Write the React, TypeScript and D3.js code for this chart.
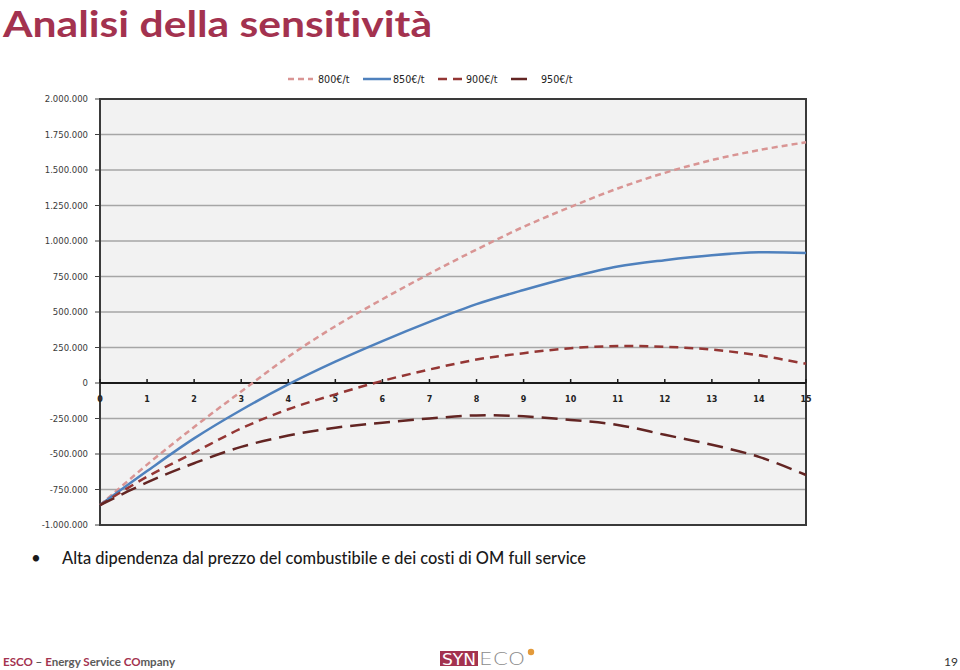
import React from "react";
import * as d3 from "d3";

const years = [0, 1, 2, 3, 4, 5, 6, 7, 8, 9, 10, 11, 12, 13, 14, 15];
const series800 = [-860, -575, -310, -60, 185, 400, 590, 770, 940, 1100, 1240, 1370, 1480, 1570, 1640, 1695];
const series850 = [-860, -620, -390, -190, -10, 150, 295, 430, 555, 655, 745, 820, 865, 900, 920, 915];
const series900 = [-860, -660, -490, -320, -185, -80, 15, 95, 165, 210, 245, 260, 255, 235, 195, 135];
const series950 = [-860, -700, -565, -450, -370, -315, -280, -250, -228, -235, -260, -295, -365, -435, -520, -648];
const seriesNames = ["800€/t", "850€/t", "900€/t", "950€/t"];
const yTicks = [2000000, 1750000, 1500000, 1250000, 1000000, 750000, 500000, 250000, 0, -250000, -500000, -750000, -1000000];

const CRIMSON = "#A3324F";

const seriesStyles = [
  { color: "#D99594", dash: "6,4" },
  { color: "#4F81BD", dash: "" },
  { color: "#943634", dash: "9,6" },
  { color: "#632523", dash: "16,8" },
];

const fmt = (v: number) => {
  if (v === 0) return "0";
  const s = Math.abs(v).toString().replace(/\B(?=(\d{3})+(?!\d))/g, ".");
  return (v < 0 ? "-" : "") + s;
};

const noLig = { fontVariantLigatures: "none" as const };

export default function App() {
  const left = 100, right = 806, top = 99, bottom = 525;
  const x = d3.scaleLinear().domain([0, 15]).range([left, right]);
  const y = d3.scaleLinear().domain([-1000000, 2000000]).range([bottom, top]);
  const all = [series800, series850, series900, series950];
  const line = d3
    .line<number>()
    .x((_, i) => x(years[i]))
    .y((d) => y(d * 1000))
    .curve(d3.curveCatmullRom.alpha(0.5));

  const legendItems = [
    { x1: 288, x2: 313, tx: 318 },
    { x1: 363, x2: 391, tx: 393 },
    { x1: 438, x2: 462, tx: 466 },
    { x1: 511, x2: 531, tx: 541 },
  ];

  return (
    <svg width={960} height={670} style={{ position: "absolute", left: 0, top: 0, background: "#fff" }}>
      {/* Title */}
      <text x={3} y={37} fontFamily="Lato" fontWeight={700} fontSize={36} fill={CRIMSON} textLength={429} lengthAdjust="spacingAndGlyphs" style={noLig}>
        Analisi della sensitività
      </text>

      {/* Legend */}
      {legendItems.map((it, i) => (
        <g key={i}>
          <line x1={it.x1} x2={it.x2} y1={79} y2={79} stroke={seriesStyles[i].color} strokeWidth={2.5} strokeDasharray={seriesStyles[i].dash || undefined} />
          <text x={it.tx} y={83} fontFamily="DejaVu Sans" fontSize={9.6} fill="#222">
            {seriesNames[i]}
          </text>
        </g>
      ))}

      {/* Plot area */}
      <rect x={left} y={top} width={right - left} height={bottom - top} fill="#F2F2F2" />
      {yTicks.map((t) => (
        <g key={t}>
          {t !== 0 && t !== 2000000 && t !== -1000000 && (
            <line x1={left} x2={right} y1={y(t)} y2={y(t)} stroke="#A6A6A6" strokeWidth={1.5} />
          )}
          <line x1={left - 5} x2={left} y1={y(t)} y2={y(t)} stroke="#404040" strokeWidth={1} />
          <text x={88} y={y(t) + 3} textAnchor="end" fontFamily="DejaVu Sans" fontSize={8.5} fill="#3a3a3a">
            {fmt(t)}
          </text>
        </g>
      ))}
      <rect x={left} y={top} width={right - left} height={bottom - top} fill="none" stroke="#3a3a3a" strokeWidth={2} />

      {/* Zero axis */}
      <line x1={left} x2={right} y1={y(0)} y2={y(0)} stroke="#1a1a1a" strokeWidth={2} />
      {years.map((yr) => (
        <g key={yr}>
          <line x1={x(yr)} x2={x(yr)} y1={y(0) - 4} y2={y(0)} stroke="#1a1a1a" strokeWidth={1.5} />
          <text x={x(yr)} y={y(0) + 19} textAnchor="middle" fontFamily="DejaVu Sans" fontWeight={700} fontSize={8} fill="#222">
            {yr}
          </text>
        </g>
      ))}

      {/* Series */}
      {all.map((s, i) => (
        <path key={i} d={line(s) || ""} fill="none" stroke={seriesStyles[i].color} strokeWidth={2.5} strokeDasharray={seriesStyles[i].dash || undefined} />
      ))}

      {/* Bullet */}
      <text x={31} y={564} fontFamily="Lato" fontSize={17} fill="#1a1a1a">•</text>
      <text x={62} y={564} fontFamily="Lato" fontWeight={500} fontSize={17} fill="#1a1a1a" textLength={524} lengthAdjust="spacingAndGlyphs" style={noLig}>
        Alta dipendenza dal prezzo del combustibile e dei costi di OM full service
      </text>

      {/* Footer */}
      <text x={3} y={666} fontFamily="Lato" fontWeight={700} fontSize={12} fill="#5a5a5a" textLength={172} lengthAdjust="spacingAndGlyphs" style={noLig}>
        <tspan fill={CRIMSON}>ESCO</tspan>
        <tspan> – </tspan>
        <tspan fill={CRIMSON}>E</tspan>
        <tspan>nergy </tspan>
        <tspan fill={CRIMSON}>S</tspan>
        <tspan>ervice </tspan>
        <tspan fill={CRIMSON}>CO</tspan>
        <tspan>mpany</tspan>
      </text>

      {/* Logo */}
      <rect x={440} y={651} width={38} height={15} fill={CRIMSON} />
      <text x={459} y={665} textAnchor="middle" fontFamily="DejaVu Sans" fontSize={15} fill="#fff" textLength={34} lengthAdjust="spacingAndGlyphs">
        SYN
      </text>
      <text x={479} y={665} fontFamily="DejaVu Sans" fontWeight={300} fontSize={17} fill="#8c8c8c" textLength={46} lengthAdjust="spacingAndGlyphs">
        ECO
      </text>
      <circle cx={531} cy={652} r={3.2} fill="#E39A3A" />

      {/* Page number */}
      <text x={958} y={666} textAnchor="end" fontFamily="Lato" fontSize={12} fill="#333">
        19
      </text>
    </svg>
  );
}
